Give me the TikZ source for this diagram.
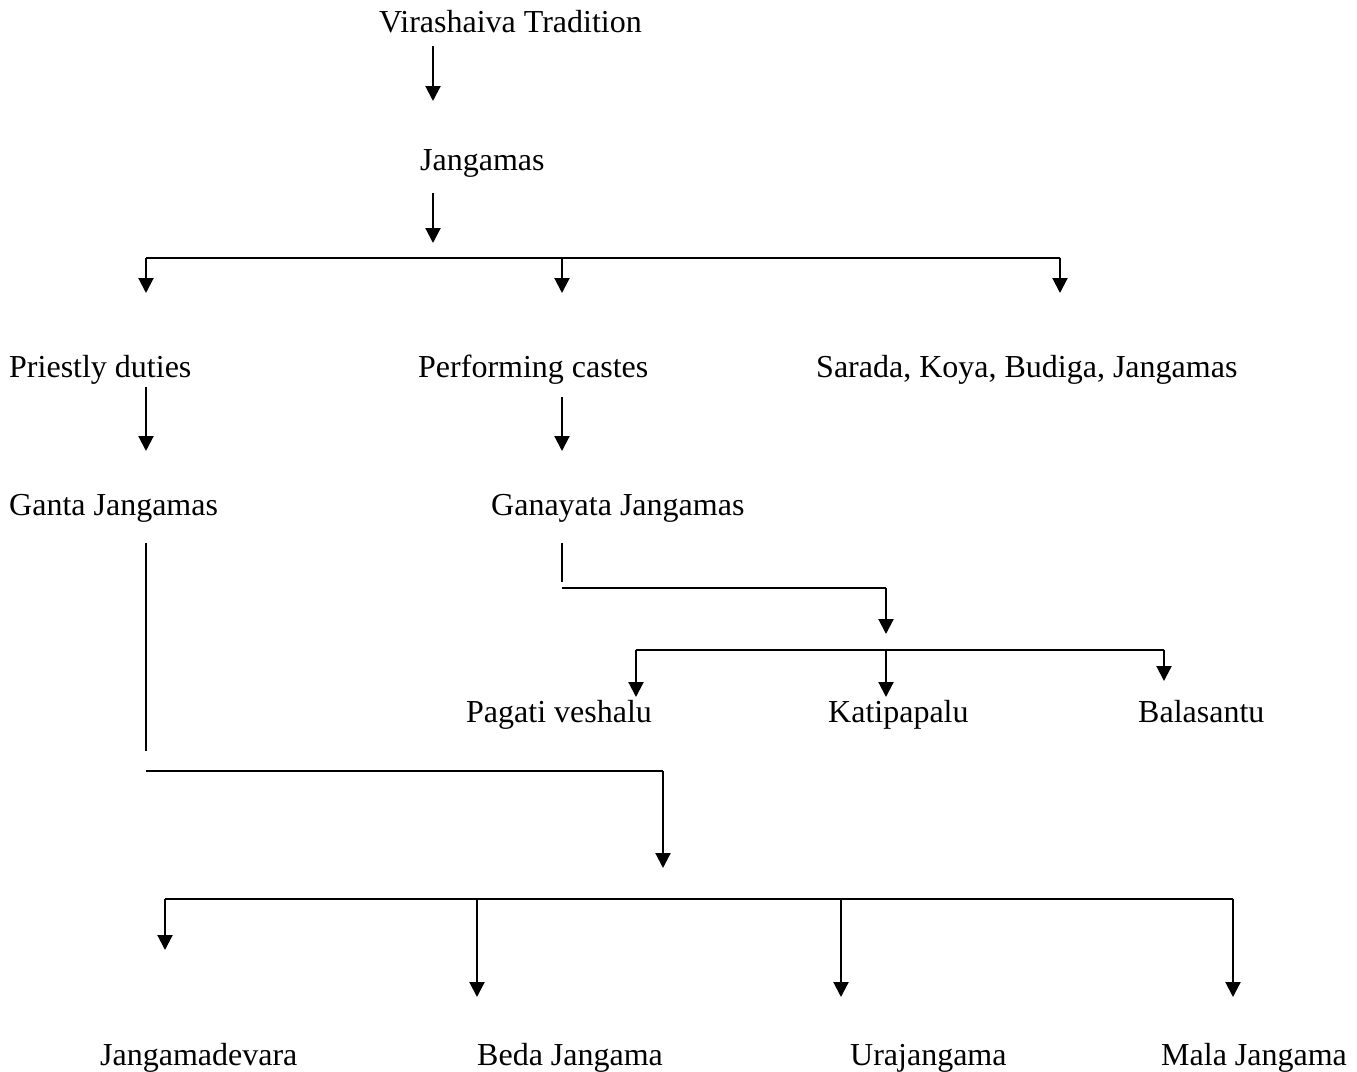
\documentclass[tikz,border=0pt]{standalone}
\usepackage{fontspec}
\setmainfont{Liberation Serif}
\usetikzlibrary{arrows.meta}
\begin{document}
\begin{tikzpicture}[x=1pt,y=-1pt,
  lbl/.style={inner sep=0pt,anchor=base west,font=\fontsize{32}{38}\selectfont},
  ln/.style={line width=2.1pt},
  arr/.style={line width=2.1pt,-{Triangle[width=15pt,length=15pt]}}]
\useasboundingbox (0,0) rectangle (1357,1071);
% labels
\node[lbl] (vt) at (379,32) {Virashaiva Tradition};
\node[lbl] (jg) at (420,170) {Jangamas};
\node[lbl] (pd) at (9,377) {Priestly duties};
\node[lbl] (pc) at (418,377) {Performing castes};
\node[lbl] (sk) at (816,377) {Sarada, Koya, Budiga, Jangamas};
\node[lbl] (gj) at (9,515) {Ganta Jangamas};
\node[lbl] (gy) at (491,515) {Ganayata Jangamas};
\node[lbl] (pv) at (466,722) {Pagati veshalu};
\node[lbl] (kp) at (828,722) {Katipapalu};
\node[lbl] (bs) at (1138,722) {Balasantu};
\node[lbl] (jd) at (100,1065) {Jangamadevara};
\node[lbl] (bj) at (477,1065) {Beda Jangama};
\node[lbl] (uj) at (850,1065) {Urajangama};
\node[lbl] (mj) at (1161,1065) {Mala Jangama};
% junction coordinates
\coordinate (a1s) at (433,46);   \coordinate (a1e) at (433,101);
\coordinate (a2s) at (433,193);  \coordinate (a2e) at (433,243);
\coordinate (h1l) at (146,258);  \coordinate (h1m) at (562,258); \coordinate (h1r) at (1060,258);
\coordinate (h1le) at (146,293); \coordinate (h1me) at (562,293); \coordinate (h1re) at (1060,293);
\coordinate (pds) at (146,387);  \coordinate (pde) at (146,451);
\coordinate (pcs) at (562,397);  \coordinate (pce) at (562,451);
\coordinate (gjs) at (146,543);  \coordinate (gje) at (146,751);
\coordinate (gys) at (562,543);  \coordinate (gye) at (562,582);
\coordinate (h2l) at (562,588);  \coordinate (h2r) at (886,588); \coordinate (h2e) at (886,634);
\coordinate (h3l) at (636,650);  \coordinate (h3m) at (886,650); \coordinate (h3r) at (1164,650);
\coordinate (h3le) at (636,697); \coordinate (h3me) at (886,697); \coordinate (h3re) at (1164,681);
\coordinate (h4l) at (146,771);  \coordinate (h4r) at (663,771); \coordinate (h4e) at (663,868);
\coordinate (h5a) at (165,899);  \coordinate (h5b) at (477,899); \coordinate (h5c) at (841,899); \coordinate (h5d) at (1233,899);
\coordinate (h5ae) at (165,950); \coordinate (h5be) at (477,997); \coordinate (h5ce) at (841,997); \coordinate (h5de) at (1233,997);
% connectors
\draw[arr] (a1s) -- (a1e);
\draw[arr] (a2s) -- (a2e);
\draw[ln] (h1l) -- (h1r);
\draw[arr] (h1l) -- (h1le);
\draw[arr] (h1m) -- (h1me);
\draw[arr] (h1r) -- (h1re);
\draw[arr] (pds) -- (pde);
\draw[arr] (pcs) -- (pce);
\draw[line width=1.5pt] (gjs) -- (gje);
\draw[line width=1.5pt] (gys) -- (gye);
\draw[ln] (h2l) -- (h2r);
\draw[arr] (h2r) -- (h2e);
\draw[ln] (h3l) -- (h3r);
\draw[arr] (h3l) -- (h3le);
\draw[arr] (h3m) -- (h3me);
\draw[arr] (h3r) -- (h3re);
\draw[ln] (h4l) -- (h4r);
\draw[arr] (h4r) -- (h4e);
\draw[line width=2.6pt] (h5a) -- (h5d);
\draw[arr] (h5a) -- (h5ae);
\draw[arr] (h5b) -- (h5be);
\draw[arr] (h5c) -- (h5ce);
\draw[arr] (h5d) -- (h5de);
\end{tikzpicture}
\end{document}
